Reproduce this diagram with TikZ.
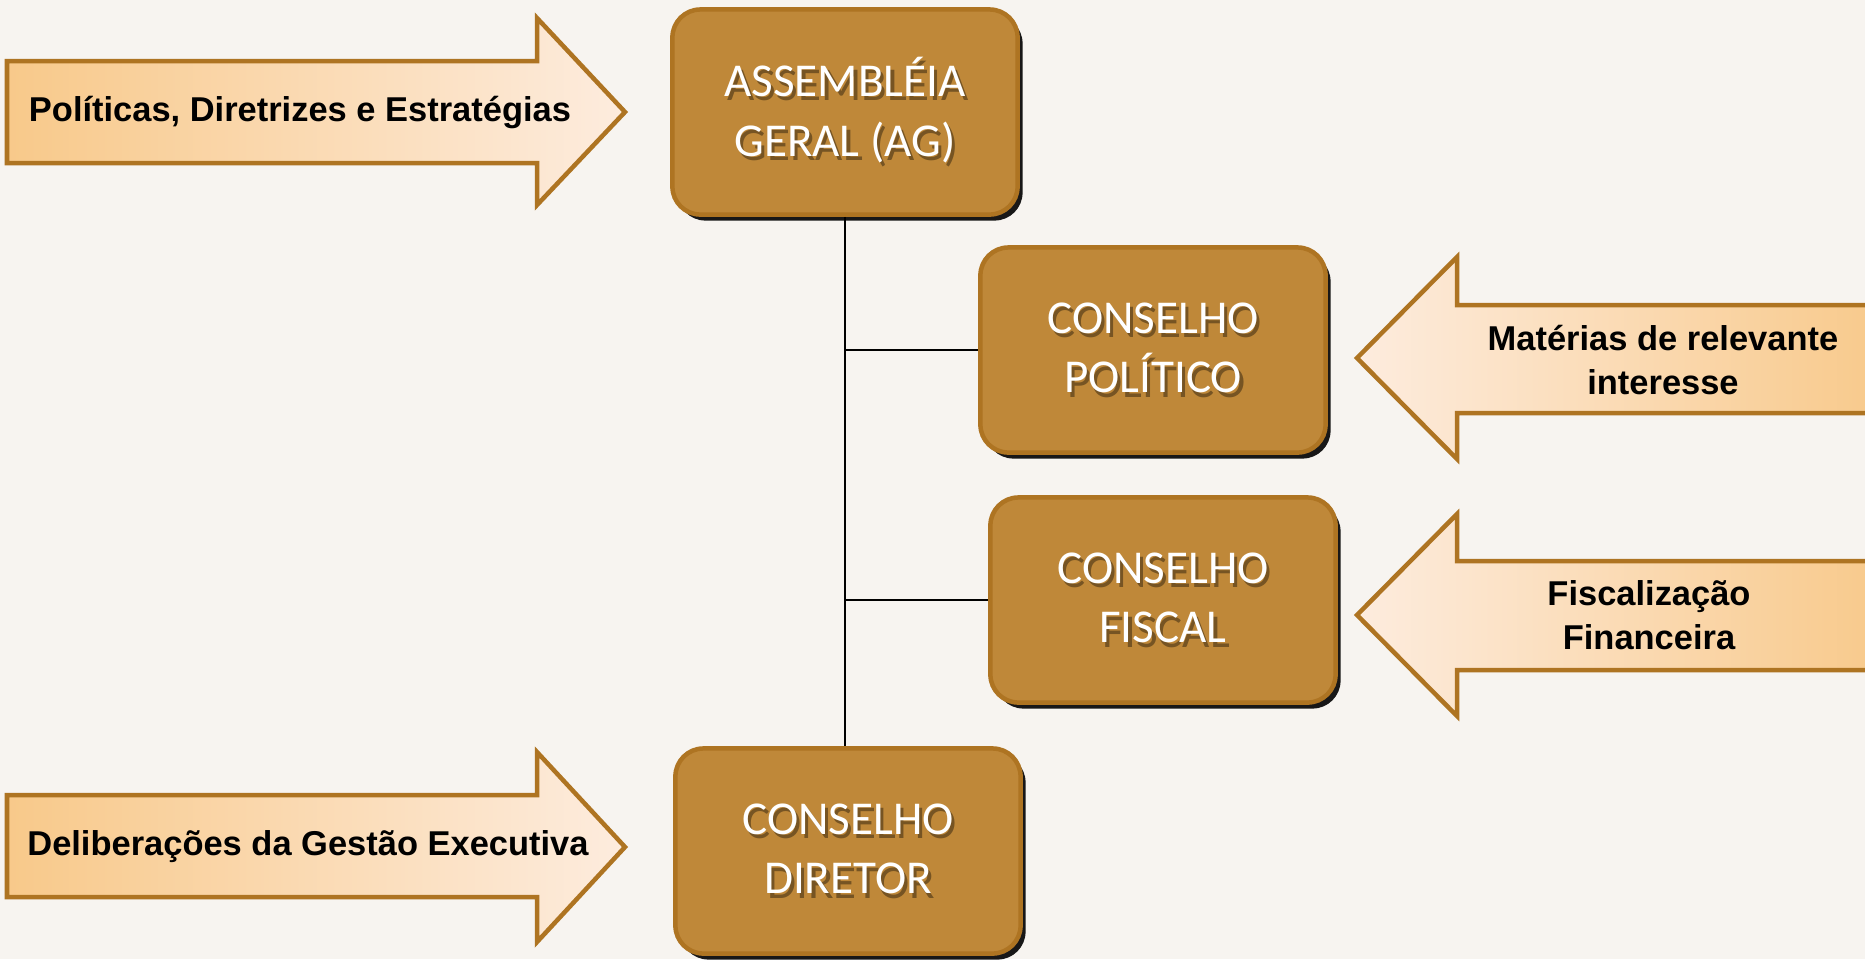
\documentclass[tikz,border=0pt]{standalone}
\usepackage{fontspec}
\setmainfont{Carlito}
\newfontfamily\setafonte{Liberation Sans}
\usetikzlibrary{shadows}
\definecolor{fundo}{RGB}{247,244,240}
\definecolor{ouro}{RGB}{191,136,57}
\definecolor{marrom}{RGB}{174,116,34}
\definecolor{pessego}{RGB}{253,236,222}
\definecolor{laranja}{RGB}{248,201,138}
\newcommand\sombra[1]{\makebox[0pt][l]{\hspace{0.07em}\raisebox{-0.09em}{\textcolor{ouro!62!black}{#1}}}#1}

\begin{document}
\begin{tikzpicture}[%
    x = 0.01cm, y = -0.01cm,
    caixa/.style = {rectangle, rounded corners=0.28cm, draw=marrom, line width=0.045cm,
      fill=ouro, minimum width=3.45cm, minimum height=2.05cm, inner sep=0pt,
      text=white, align=center, font=\fontsize{13.4}{17}\selectfont,
      drop shadow={shadow xshift=0.05cm, shadow yshift=-0.06cm, fill=black, opacity=0.9}},
    seta/.style = {draw=marrom, line width=0.045cm, line join=miter},
    rotulo/.style = {inner sep=0pt, align=center, text=black,
      font=\setafonte\bfseries\fontsize{9.8}{12.5}\selectfont},
    ligacao/.style = {draw=black, line width=0.02cm}%
  ]
    \useasboundingbox (0,0) rectangle (1865,959);
    \clip (0,0) rectangle (1865,959);
    \fill[fundo] (0,0) rectangle (1865,959);

    % setas de entrada
    \draw[seta, left color=laranja, right color=pessego]
      (7,61) -- (537,61) -- (537,18) -- (625,112) -- (537,205) -- (537,163) -- (7,163) -- cycle;
    \draw[seta, left color=laranja, right color=pessego]
      (7,795) -- (537,795) -- (537,752) -- (625,847) -- (537,942) -- (537,897) -- (7,897) -- cycle;
    \draw[seta, left color=pessego, right color=laranja]
      (1890,305) -- (1457,305) -- (1457,257) -- (1357,358) -- (1457,459) -- (1457,413) -- (1890,413) -- cycle;
    \draw[seta, left color=pessego, right color=laranja]
      (1890,561) -- (1457,561) -- (1457,514) -- (1357,615) -- (1457,716) -- (1457,670) -- (1890,670) -- cycle;

    \node[rotulo] (tpol) at (300,112) {Políticas, Diretrizes e Estratégias};
    \node[rotulo] (tdel) at (308,847) {Deliberações da Gestão Executiva};
    \node[rotulo] (tmat) at (1663,360) {Matérias de relevante\\interesse};
    \node[rotulo] (tfis) at (1649,615) {Fiscalização\\Financeira};

    % conselhos
    \node[caixa] (ag)   at (845,112)  {\sombra{ASSEMBLÉIA}\\\sombra{GERAL (AG)}};
    \node[caixa] (cpol) at (1153,350) {\sombra{CONSELHO}\\\sombra{POLÍTICO}};
    \node[caixa] (cfis) at (1163,600) {\sombra{CONSELHO}\\\sombra{FISCAL}};
    \node[caixa] (cdir) at (848,851)  {\sombra{CONSELHO}\\\sombra{DIRETOR}};

    \draw[ligacao] (ag.south) -- (ag.south |- cdir.north);
    \draw[ligacao] (ag.south |- cpol.west) -- (cpol.west);
    \draw[ligacao] (ag.south |- cfis.west) -- (cfis.west);
  \end{tikzpicture}
\end{document}
